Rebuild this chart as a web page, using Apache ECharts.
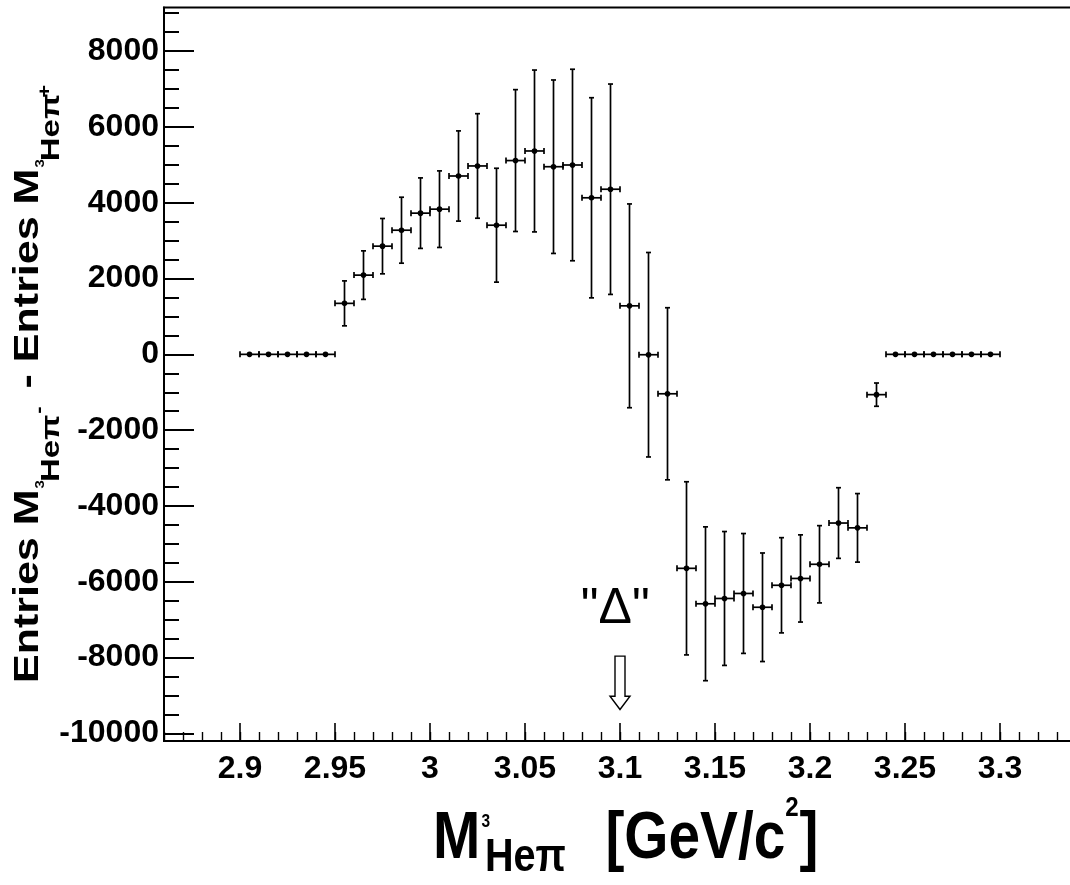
<!DOCTYPE html>
<html><head><meta charset="utf-8">
<script src="https://cdn.jsdelivr.net/npm/echarts@6/dist/echarts.min.js"></script>
<style>html,body{margin:0;padding:0;background:#fff;overflow:hidden}#c{width:1090px;height:885px}</style>
</head><body><div id="c"></div>
<script>
// ---- data ----
const binCenters = [2.905,2.915,2.925,2.935,2.945,2.955,2.965,2.975,2.985,2.995,
  3.005,3.015,3.025,3.035,3.045,3.055,3.065,3.075,3.085,3.095,
  3.105,3.115,3.125,3.135,3.145,3.155,3.165,3.175,3.185,3.195,
  3.205,3.215,3.225,3.235,3.245,3.255,3.265,3.275,3.285,3.295];
const values = [0,0,0,0,0,1345,2090,2854,3275,3725,
  3830,4705,4970,3407,5112,5365,4950,4995,4130,4356,
  1280,-10,-1040,-5645,-6580,-6440,-6308,-6672,-6092,-5912,
  -5538,-4450,-4577,-1063,0,0,0,0,0,0];
const errors = [0,0,0,0,0,593,640,730,870,930,
  1010,1190,1379,1502,1871,2135,2288,2526,2640,2775,
  2688,2697,2270,2284,2029,1766,1581,1432,1256,1150,
  1019,932,904,307,0,0,0,0,0,0];
const binHalfWidth = 0.005;
const xTicks = [2.9,2.95,3,3.05,3.1,3.15,3.2,3.25,3.3];
const xTickLabels = ['2.9','2.95','3','3.05','3.1','3.15','3.2','3.25','3.3'];
const yTicks = [-10000,-8000,-6000,-4000,-2000,0,2000,4000,6000,8000];
const yTickLabels = ['-10000','-8000','-6000','-4000','-2000','0','2000','4000','6000','8000'];
const yMinorTicks = [];
for (let v = -10000; v <= 9000; v += 500) if (v % 2000 !== 0) yMinorTicks.push(v);
const annotLabel = '"\u0394"';
const annotX = 3.1, annotLabelX = 3.0975, annotLabelY = -7170, arrowTop = -7960, arrowTip = -9370;

const FONT = "'Liberation Sans', Arial, Helvetica, sans-serif";
const XMIN = 2.86, XMAX = 3.342, YMIN = -10200, YMAX = 9150;

const chart = echarts.init(document.getElementById('c'), null, {renderer: 'canvas'});

// ---- title builders ----
const mctx = document.createElement('canvas').getContext('2d');
function textEl(p, x) {
  const font = `bold ${p.size}px ${FONT}`;
  return {type: 'text', x: x, y: (p.dy || 0) - 0.33 * p.size,
    style: {text: p.t, font: font, fill: '#000', textAlign: 'left', textVerticalAlign: 'middle'}};
}
function buildFlow(parts) {
  let x = 0; const out = [];
  parts.forEach(p => {
    x += (p.gap || 0);
    mctx.font = `bold ${p.size}px ${FONT}`;
    const w = mctx.measureText(p.t).width;
    out.push(textEl(p, x));
    x += w;
  });
  return out;
}

const xTitleParts = [
  {t: 'M', size: 66},
  {t: '3', size: 18, dy: -34, gap: 1.5},
  {t: 'He\u03c0', size: 46, dy: 11, gap: -6},
  {t: '[GeV/c', size: 66, gap: 46},
  {t: '2', size: 28, dy: -44, gap: 0},
  {t: ']', size: 66, gap: 1}
];
const yTitleParts = [
  {t: 'Entries M', size: 43},
  {t: '3', size: 15, dy: 6, gap: 1},
  {t: 'He\u03c0', size: 33, dy: 26, gap: -2},
  {t: '-', size: 22, dy: 7, gap: 1},
  {t: ' - Entries M', size: 43, gap: 6},
  {t: '3', size: 15, dy: 6, gap: 1},
  {t: 'He\u03c0', size: 33, dy: 26, gap: -2},
  {t: '+', size: 22, dy: 14, gap: -4}
];

const seriesData = binCenters.map((x, i) => [x, values[i], errors[i]]);

const option = {
  animation: false,
  backgroundColor: '#fff',
  grid: {left: 164, top: 7.5, right: 10.2, bottom: 144, show: true, borderColor: '#000', borderWidth: 2},
  xAxis: [
    {type: 'value', min: XMIN, max: XMAX, position: 'bottom',
      axisLine: {show: true, onZero: false, lineStyle: {color: '#000', width: 2}},
      axisTick: {show: true, inside: true, length: 18, lineStyle: {color: '#000', width: 1.6}, customValues: xTicks},
      axisLabel: {show: true, customValues: xTicks, margin: 12, color: '#000', fontSize: 32, fontWeight: 'bold', fontFamily: FONT,
        formatter: v => { const i = xTicks.findIndex(t => Math.abs(t - v) < 1e-9); return i >= 0 ? xTickLabels[i] : ''; }},
      splitLine: {show: false}},
    {type: 'value', min: XMIN, max: XMAX, interval: 0.01, position: 'bottom',
      axisLine: {show: false, onZero: false}, axisLabel: {show: false}, splitLine: {show: false},
      axisTick: {show: true, inside: true, length: 9, lineStyle: {color: '#000', width: 1.4}}}
  ],
  yAxis: [
    {type: 'value', min: YMIN, max: YMAX, position: 'left',
      axisLine: {show: true, onZero: false, lineStyle: {color: '#000', width: 2}},
      axisTick: {show: true, inside: true, length: 30, lineStyle: {color: '#000', width: 2}, customValues: yTicks},
      axisLabel: {show: true, customValues: yTicks, margin: 5, color: '#000', fontSize: 32, fontWeight: 'bold', fontFamily: FONT,
        formatter: v => { const i = yTicks.indexOf(v); return i >= 0 ? yTickLabels[i] : ''; }},
      splitLine: {show: false}},
    {type: 'value', min: YMIN, max: YMAX, position: 'left',
      axisLine: {show: false, onZero: false}, axisLabel: {show: false}, splitLine: {show: false},
      axisTick: {show: true, inside: true, length: 15, lineStyle: {color: '#000', width: 2}, customValues: yMinorTicks}}
  ],
  series: [
    {type: 'custom', xAxisIndex: 0, yAxisIndex: 0, encode: {x: 0, y: 1}, data: seriesData, clip: false,
      renderItem: function (params, api) {
        const x = api.value(0), y = api.value(1), e = api.value(2);
        const c = api.coord([x, y]);
        const l = api.coord([x - binHalfWidth, y]);
        const r = api.coord([x + binHalfWidth, y]);
        const st = {stroke: '#000', lineWidth: 1.7};
        const ch = [];
        ch.push({type: 'line', shape: {x1: l[0], y1: c[1], x2: r[0], y2: c[1]}, style: st});
        ch.push({type: 'line', shape: {x1: l[0], y1: c[1] - 3, x2: l[0], y2: c[1] + 3}, style: st});
        ch.push({type: 'line', shape: {x1: r[0], y1: c[1] - 3, x2: r[0], y2: c[1] + 3}, style: st});
        if (e > 0) {
          const t = api.coord([x, y + e]);
          const b = api.coord([x, y - e]);
          ch.push({type: 'line', shape: {x1: c[0], y1: t[1], x2: c[0], y2: b[1]}, style: st});
          ch.push({type: 'line', shape: {x1: c[0] - 2.5, y1: t[1], x2: c[0] + 2.5, y2: t[1]}, style: st});
          ch.push({type: 'line', shape: {x1: c[0] - 2.5, y1: b[1], x2: c[0] + 2.5, y2: b[1]}, style: st});
        }
        ch.push({type: 'circle', shape: {cx: c[0], cy: c[1], r: 2.8}, style: {fill: '#000'}});
        return {type: 'group', children: ch};
      }},
    {type: 'custom', xAxisIndex: 0, yAxisIndex: 0, data: [[annotX, arrowTop, arrowTip]], clip: false, silent: true,
      renderItem: function (params, api) {
        const top = api.coord([api.value(0), api.value(1)]);
        const tip = api.coord([api.value(0), api.value(2)]);
        const lab = api.coord([annotLabelX, annotLabelY]);
        const cx = tip[0], hb = tip[1] - 13.3;
        return {type: 'group', children: [
          {type: 'polygon', shape: {points: [[cx - 5, top[1]], [cx + 5, top[1]], [cx + 5, hb], [cx + 10, hb], [cx, tip[1]], [cx - 10, hb], [cx - 5, hb]]},
            style: {fill: '#fff', stroke: '#000', lineWidth: 1.4}},
          {type: 'text', x: lab[0], y: lab[1] - 0.33 * 50,
            style: {text: annotLabel, font: `50px ${FONT}`, fill: '#000', textAlign: 'center', textVerticalAlign: 'middle'}}
        ]};
      }}
  ],
  graphic: [
    {type: 'group', x: 433, y: 862, scaleX: 0.86, children: buildFlow(xTitleParts)},
    {type: 'group', x: 40, y: 683, rotation: Math.PI / 2, scaleY: 0.8, children: buildFlow(yTitleParts)}
  ]
};
chart.setOption(option);
</script></body></html>
